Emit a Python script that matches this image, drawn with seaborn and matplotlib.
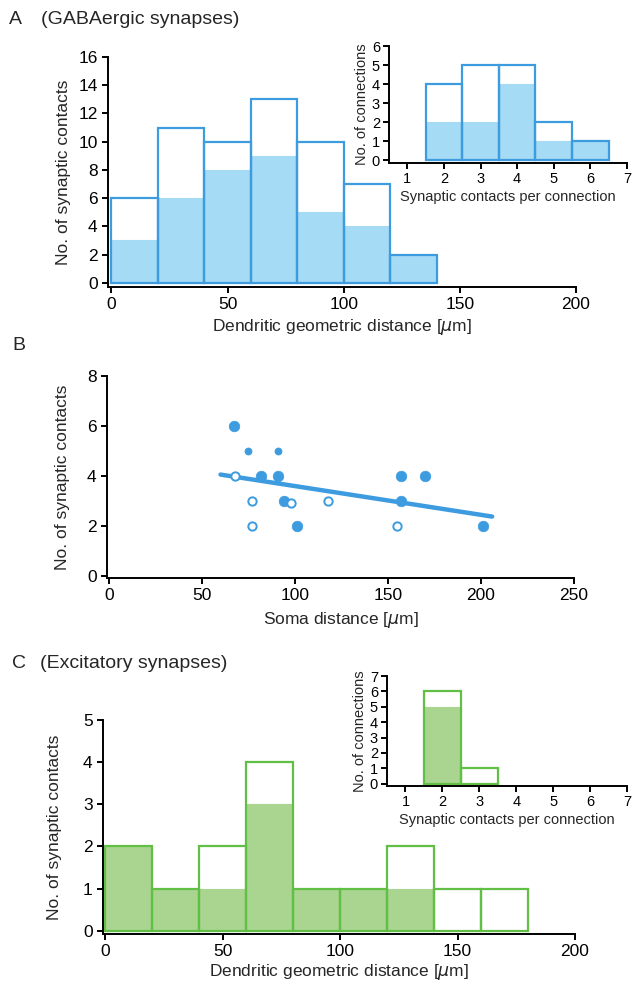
import matplotlib
matplotlib.use("Agg")
import matplotlib.pyplot as plt
import seaborn as sns
import numpy as np
import pandas as pd

# -----------------------------
# Data
# -----------------------------
# A: GABAergic synapses, dendritic distance (20 um bins)
gaba_edges = [0, 20, 40, 60, 80, 100, 120, 140]
gaba_total = [6, 11, 10, 13, 10, 7, 2]
gaba_subset = [3, 6, 8, 9, 5, 4, 2]

# A inset: synaptic contacts per connection
gaba_conn_edges = [1.5, 2.5, 3.5, 4.5, 5.5, 6.5]
gaba_conn_total = [4, 5, 5, 2, 1]
gaba_conn_subset = [2, 2, 4, 1, 1]

# B: soma distance vs number of contacts
soma_dist = [67, 75, 91, 68, 82, 91, 157, 170, 77, 94, 98, 118, 157, 77, 101, 155, 201]
soma_contacts = [6, 5, 5, 4, 4, 4, 4, 4, 3, 3, 2.9, 3, 3, 2, 2, 2, 2]
soma_kind = ["filled", "small", "small", "open", "filled", "filled", "filled", "filled",
             "open", "filled", "open", "open", "filled", "open", "filled", "open", "filled"]

# C: excitatory synapses
exc_edges = [0, 20, 40, 60, 80, 100, 120, 140, 160, 180]
exc_total = [2, 1, 2, 4, 1, 1, 2, 1, 1]
exc_subset = [2, 1, 1, 3, 1, 1, 1, 0, 0]

exc_conn_edges = [1.5, 2.5, 3.5]
exc_conn_total = [6, 1]
exc_conn_subset = [5, 0]

BLUE = "#3d9be0"
BLUE_FILL = "#a5dbf4"
GREEN = "#62bf45"
GREEN_FILL = "#a9d590"

LABEL_FS = 12.5
TICK_FS = 12.5
INSET_FS = 10.5

sns.set_style("ticks")
plt.rcParams["font.family"] = ["Liberation Sans", "DejaVu Sans"]
plt.rcParams["axes.linewidth"] = 1.4
plt.rcParams["xtick.major.width"] = 1.4
plt.rcParams["ytick.major.width"] = 1.4
plt.rcParams["xtick.major.size"] = 4.5
plt.rcParams["ytick.major.size"] = 4.5
plt.rcParams["xtick.color"] = "black"
plt.rcParams["ytick.color"] = "black"
plt.rcParams["axes.edgecolor"] = "black"


def hist_pair(ax, edges, total, subset, fill, edge, lw=1.6):
    e = np.array(edges, dtype=float)
    centers = (e[:-1] + e[1:]) / 2
    df = pd.DataFrame({"x": centers, "total": total, "subset": subset})
    sns.histplot(data=df, x="x", weights="subset", bins=list(edges), ax=ax, color=fill,
                 alpha=1, edgecolor=fill, linewidth=0.8, element="bars")
    sns.histplot(data=df, x="x", weights="total", bins=list(edges), ax=ax, fill=False,
                 color=edge, linewidth=lw, element="bars")


def style(ax, fs, pad=2):
    sns.despine(ax=ax)
    ax.tick_params(labelsize=fs, pad=pad)


fig = plt.figure(figsize=(6.32, 9.90), dpi=100)

# -----------------------------
# A main
# -----------------------------
axA = fig.add_axes([108 / 632, 1 - 287 / 990, (576 - 108) / 632, (287 - 57) / 990])
hist_pair(axA, gaba_edges, gaba_total, gaba_subset, BLUE_FILL, BLUE)
axA.set_xlim(-1.5, 200)
axA.set_ylim(-0.3, 16)
axA.set_xticks([0, 50, 100, 150, 200])
axA.set_yticks(range(0, 17, 2))
axA.set_xlabel("Dendritic geometric distance [$\\mu$m]", fontsize=LABEL_FS, labelpad=3)
axA.set_ylabel("No. of synaptic contacts", fontsize=LABEL_FS, labelpad=5)
style(axA, TICK_FS, 3)

# A inset
axAi = fig.add_axes([389 / 632, 1 - 163 / 990, (627 - 389) / 632, (163 - 46) / 990])
hist_pair(axAi, gaba_conn_edges, gaba_conn_total, gaba_conn_subset, BLUE_FILL, BLUE)
axAi.set_xlim(0.5, 7)
axAi.set_ylim(-0.15, 6)
axAi.set_xticks(range(1, 8))
axAi.set_yticks(range(0, 7))
axAi.set_xlabel("Synaptic contacts per connection", fontsize=INSET_FS, labelpad=3)
axAi.set_ylabel("No. of connections", fontsize=INSET_FS, labelpad=2)
style(axAi, INSET_FS)

# -----------------------------
# B scatter
# -----------------------------
axB = fig.add_axes([107 / 632, 1 - 578 / 990, (574 - 107) / 632, (578 - 376) / 990])
dfB = pd.DataFrame({"dist": soma_dist, "n": soma_contacts, "kind": soma_kind})
coef = np.polyfit(dfB["dist"], dfB["n"], 1)
x_fit = np.array([60, 206])
sns.lineplot(x=x_fit, y=np.polyval(coef, x_fit), ax=axB, color=BLUE, linewidth=3.2, zorder=2)
sub = dfB[dfB["kind"] == "filled"]
sns.scatterplot(data=sub, x="dist", y="n", ax=axB, color=BLUE, s=58, edgecolor=BLUE,
                linewidth=0.5, zorder=3)
sub = dfB[dfB["kind"] == "small"]
sns.scatterplot(data=sub, x="dist", y="n", ax=axB, color=BLUE, s=26, edgecolor=BLUE,
                linewidth=0.5, zorder=3)
sub = dfB[dfB["kind"] == "open"]
sns.scatterplot(data=sub, x="dist", y="n", ax=axB, facecolor="white", s=36, edgecolor=BLUE,
                linewidth=1.4, zorder=4)
axB.set_xlim(-1, 250)
axB.set_ylim(-0.1, 8)
axB.set_xticks([0, 50, 100, 150, 200, 250])
axB.set_yticks([0, 2, 4, 6, 8])
axB.set_xlabel("Soma distance [$\\mu$m]", fontsize=LABEL_FS, labelpad=5)
axB.set_ylabel("No. of synaptic contacts", fontsize=LABEL_FS, labelpad=12)
style(axB, TICK_FS, 3)

# -----------------------------
# C main
# -----------------------------
axC = fig.add_axes([103 / 632, 1 - 934 / 990, (575 - 103) / 632, (934 - 720) / 990])
hist_pair(axC, exc_edges, exc_total, exc_subset, GREEN_FILL, GREEN)
axC.set_xlim(-1, 200)
axC.set_ylim(-0.08, 5)
axC.set_xticks([0, 50, 100, 150, 200])
axC.set_yticks(range(0, 6))
axC.set_xlabel("Dendritic geometric distance [$\\mu$m]", fontsize=LABEL_FS, labelpad=2)
axC.set_ylabel("No. of synaptic contacts", fontsize=LABEL_FS, labelpad=15)
style(axC, TICK_FS, 3)

# C inset
axCi = fig.add_axes([387 / 632, 1 - 786 / 990, (627 - 387) / 632, (786 - 676) / 990])
hist_pair(axCi, exc_conn_edges, exc_conn_total, exc_conn_subset, GREEN_FILL, GREEN)
axCi.set_xlim(0.5, 7)
axCi.set_ylim(-0.15, 7)
axCi.set_xticks(range(1, 8))
axCi.set_yticks(range(0, 8))
axCi.set_xlabel("Synaptic contacts per connection", fontsize=INSET_FS, labelpad=3)
axCi.set_ylabel("No. of connections", fontsize=INSET_FS, labelpad=2)
style(axCi, INSET_FS)

# panel labels
fig.text(9 / 632, 1 - 20 / 990, "A", fontsize=14, va="center")
fig.text(41 / 632, 1 - 20 / 990, "(GABAergic synapses)", fontsize=14, va="center")
fig.text(12 / 632, 1 - 346 / 990, "B", fontsize=14, va="center")
fig.text(12 / 632, 1 - 663 / 990, "C", fontsize=14, va="center")
fig.text(40 / 632, 1 - 663 / 990, "(Excitatory synapses)", fontsize=14, va="center")

fig.savefig("out.png", dpi=100)
